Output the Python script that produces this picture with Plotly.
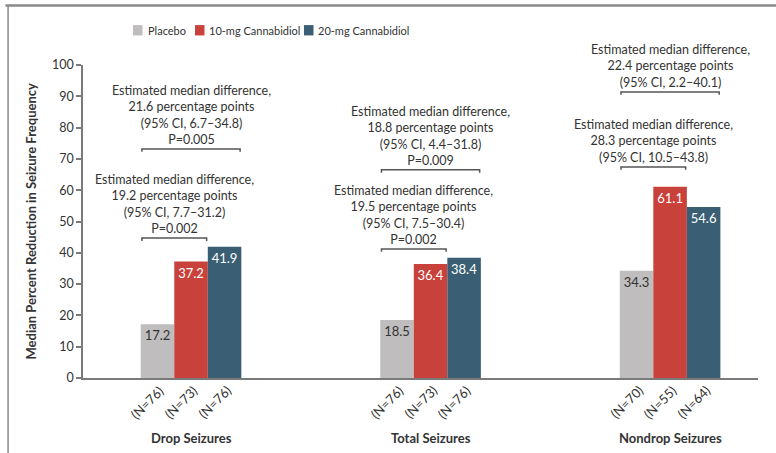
import plotly.graph_objects as go

# Seizure categories and per-arm results
groups = ["Drop Seizures", "Total Seizures", "Nondrop Seizures"]
arms = ["Placebo", "10-mg Cannabidiol", "20-mg Cannabidiol"]
placebo = [17.2, 18.5, 34.3]
cbd10 = [37.2, 36.4, 61.1]
cbd20 = [41.9, 38.4, 54.6]
n_placebo = [76, 76, 70]
n_cbd10 = [73, 73, 55]
n_cbd20 = [76, 76, 64]

# Comparison annotations: 10 mg vs placebo (lower) and 20 mg vs placebo (upper)
low_text = [
    "Estimated median difference,<br>19.2 percentage points<br>(95% CI, 7.7–31.2)<br>P=0.002",
    "Estimated median difference,<br>19.5 percentage points<br>(95% CI, 7.5–30.4)<br>P=0.002",
    "Estimated median difference,<br>28.3 percentage points<br>(95% CI, 10.5–43.8)",
]
low_level = [44.7, 41.2, 67.4]
high_text = [
    "Estimated median difference,<br>21.6 percentage points<br>(95% CI, 6.7–34.8)<br>P=0.005",
    "Estimated median difference,<br>18.8 percentage points<br>(95% CI, 4.4–31.8)<br>P=0.009",
    "Estimated median difference,<br>22.4 percentage points<br>(95% CI, 2.2–40.1)",
]
high_level = [73.2, 66.5, 91.4]

colors = ["#bfbdbe", "#c8413a", "#3a5f75"]
text_colors = ["#333333", "#ffffff", "#ffffff"]
FONT = "Lato"

x = list(range(len(groups)))
bar_w = 0.14

fig = go.Figure()
for name, vals, col, tcol in zip(arms, [placebo, cbd10, cbd20], colors, text_colors):
    fig.add_trace(go.Bar(
        x=x, y=vals, name=name, showlegend=False,
        marker=dict(color=col, line=dict(width=0)),
        text=[f"{v:.1f}" for v in vals],
        textposition="inside", insidetextanchor="end",
        textangle=0, constraintext="none",
        textfont=dict(color=tcol, size=13, family=FONT),
    ))

shapes = []
annotations = []
for i in x:
    left = i - 1.5 * bar_w + 0.005
    mid = i + 0.5 * bar_w - 0.005
    right = i + 1.5 * bar_w - 0.005
    for x1, lvl, txt in [(mid, low_level[i], low_text[i]), (right, high_level[i], high_text[i])]:
        shapes.append(dict(
            type="path", xref="x", yref="y",
            path=f"M {left},{lvl - 0.9} L {left},{lvl} L {x1},{lvl} L {x1},{lvl - 0.9}",
            line=dict(color="#555555", width=1.5),
        ))
        annotations.append(dict(
            x=(left + x1) / 2, y=lvl, xref="x", yref="y",
            text=txt, showarrow=False, xanchor="center", yanchor="bottom",
            yshift=0, align="center",
            font=dict(size=12.5, color="#333333", family=FONT),
        ))
    for k, ns in enumerate([n_placebo, n_cbd10, n_cbd20]):
        annotations.append(dict(
            x=i + (k - 1) * bar_w, y=0, xref="x", yref="paper",
            text=f"(N={ns[i]})", showarrow=False, textangle=-45,
            xanchor="center", yanchor="middle", xshift=-10, yshift=-24,
            font=dict(size=13, color="#333333", family=FONT),
        ))
    annotations.append(dict(
        x=i, y=0, xref="x", yref="paper", text=f"<b>{groups[i]}</b>",
        showarrow=False, xanchor="center", yanchor="middle", yshift=-60,
        font=dict(size=13, color="#333333", family=FONT),
    ))

annotations.append(dict(
    x=-0.0785, y=0.5, xref="paper", yref="paper",
    text="<b>Median Percent Reduction in Seizure Frequency</b>",
    textangle=-90, showarrow=False, xanchor="center", yanchor="middle",
    font=dict(size=13, color="#333333", family=FONT),
))

# Compact legend: colour squares followed by labels
leg_x = [0.0741, 0.1659, 0.3274]   # square left edges (paper)
leg_y = 1.111
for xs, name, col in zip(leg_x, arms, colors):
    shapes.append(dict(type="rect", xref="paper", yref="paper",
                       x0=xs, x1=xs + 0.0141, y0=leg_y - 0.0165, y1=leg_y + 0.0165,
                       fillcolor=col, line=dict(width=0)))
    annotations.append(dict(
        x=xs + 0.0185, y=leg_y, xref="paper", yref="paper", text=name,
        showarrow=False, xanchor="left", yanchor="middle",
        font=dict(size=11, color="#333333", family=FONT),
    ))

# Frame lines along the top and left edges
shapes.append(dict(type="line", xref="paper", yref="paper",
                   x0=-0.115, x1=1.03, y0=1.19, y1=1.19,
                   line=dict(color="#8a8a8a", width=2.5)))
shapes.append(dict(type="line", xref="paper", yref="paper",
                   x0=-0.111, x1=-0.111, y0=1.19, y1=-0.25,
                   line=dict(color="#8a8a8a", width=1.5)))

fig.update_layout(
    width=776, height=453,
    margin=dict(l=83, r=18, t=65, b=75),
    paper_bgcolor="white", plot_bgcolor="white",
    barmode="group", bargap=0.58, bargroupgap=0,
    font=dict(family=FONT, color="#333333"),
    shapes=shapes, annotations=annotations,
    xaxis=dict(range=[-0.451, 2.367], showticklabels=False, ticks="",
               showgrid=False, zeroline=False, showline=True,
               linecolor="#7a7a7a", linewidth=1.5),
    yaxis=dict(range=[0, 100], tickvals=list(range(0, 101, 10)),
               ticks="outside", ticklen=5, tickcolor="#7a7a7a", tickwidth=1.5,
               showgrid=False, zeroline=False, showline=True,
               linecolor="#7a7a7a", linewidth=1.5,
               tickfont=dict(size=12.5, color="#333333", family=FONT)),
)

fig.write_html("out.html")
